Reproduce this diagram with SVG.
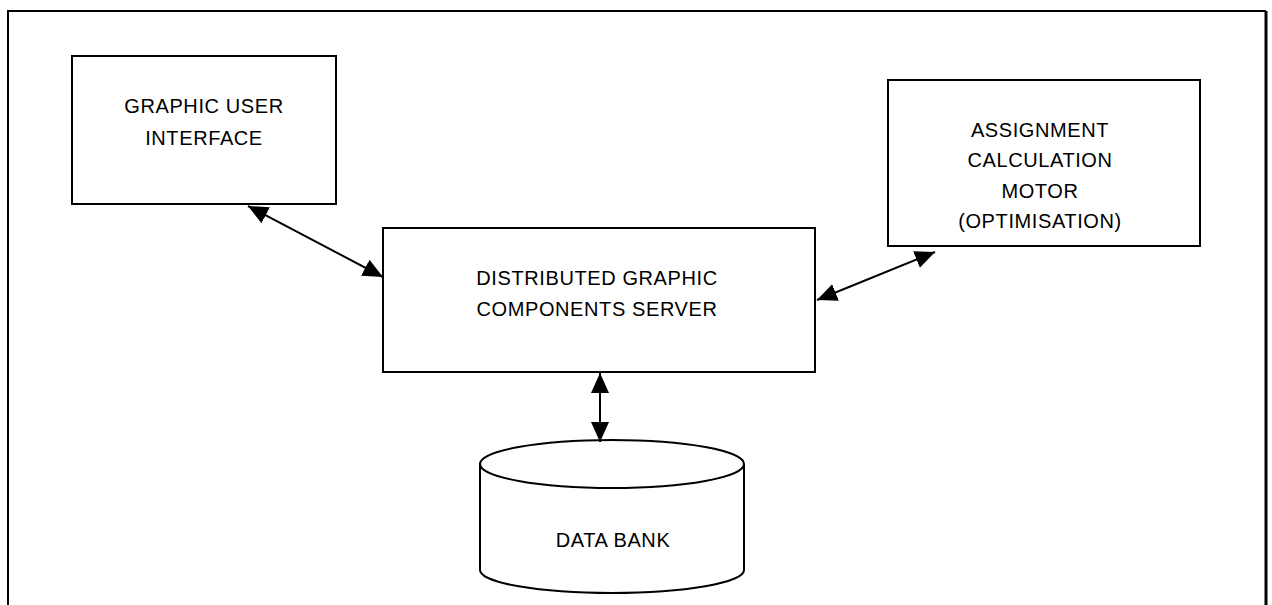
<svg xmlns="http://www.w3.org/2000/svg" width="1272" height="605" viewBox="0 0 1272 605">
<style>
.box{fill:#fff;stroke:#000;stroke-width:2}
.t{font-family:"Liberation Sans",Arial,sans-serif;font-size:20px;letter-spacing:0.6px;fill:#000;text-anchor:middle}
.c{stroke:#000;stroke-width:2;fill:none;marker-start:url(#ah);marker-end:url(#ah)}
</style>
<defs>
<marker id="ah" viewBox="0 0 20 18" refX="20" refY="9" markerWidth="20" markerHeight="18" markerUnits="userSpaceOnUse" orient="auto-start-reverse">
<path d="M0,0 L20,9 L0,18 Z" fill="#000"/>
</marker>
</defs>
<rect width="1272" height="605" fill="#fff"/>
<g id="frame">
<path d="M8,605 L8,11 L1266,11" fill="none" stroke="#000" stroke-width="2"/>
<path d="M1266,11 L1266,605" fill="none" stroke="#000" stroke-width="3"/>
</g>
<g id="gui">
<rect class="box" x="72" y="56" width="264" height="148"/>
<text class="t" x="204" y="113">GRAPHIC USER</text>
<text class="t" x="204" y="145">INTERFACE</text>
</g>
<g id="engine">
<rect class="box" x="888" y="80" width="312" height="166"/>
<text class="t" x="1040" y="137">ASSIGNMENT</text>
<text class="t" x="1040" y="167">CALCULATION</text>
<text class="t" x="1040" y="198">MOTOR</text>
<text class="t" x="1040" y="228">(OPTIMISATION)</text>
</g>
<g id="server">
<rect class="box" x="383" y="228" width="432" height="144"/>
<text class="t" x="597" y="285">DISTRIBUTED GRAPHIC</text>
<text class="t" x="597" y="316">COMPONENTS SERVER</text>
</g>
<g id="databank">
<path d="M480,464 L480,570 A132,23 0 0 0 744,570 L744,464" fill="#fff" stroke="#000" stroke-width="2"/>
<ellipse cx="612" cy="464" rx="132" ry="24" fill="#fff" stroke="#000" stroke-width="2"/>
<text class="t" x="613" y="547">DATA BANK</text>
</g>
<g id="connectors">
<line class="c" x1="248" y1="206" x2="383" y2="277"/>
<line class="c" x1="817" y1="300" x2="935" y2="252"/>
<line class="c" x1="600" y1="373" x2="600" y2="442"/>
</g>
</svg>
